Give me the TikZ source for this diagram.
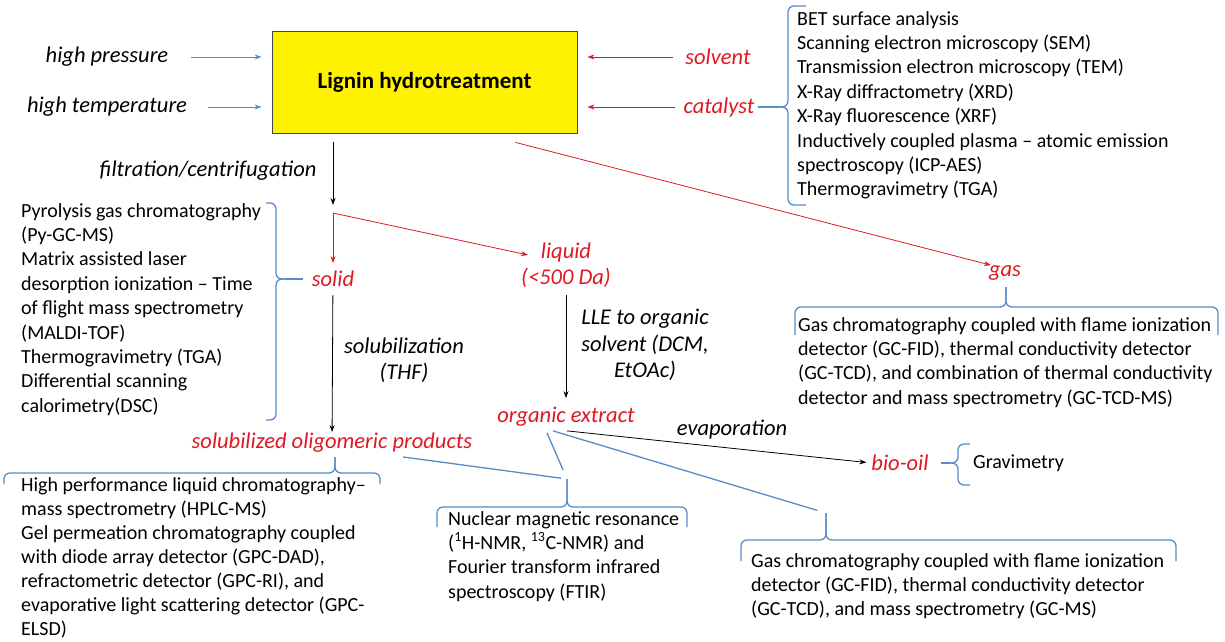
\documentclass[tikz,border=0pt]{standalone}
\usepackage{fontspec}
\setmainfont{Carlito}
\usetikzlibrary{arrows.meta}
\definecolor{labred}{RGB}{222,24,34}
\definecolor{bracblue}{RGB}{86,140,200}
\definecolor{boxline}{RGB}{70,70,70}

\tikzset{
  lbl/.style={font=\fontsize{22.5}{26.5}\selectfont\itshape, inner sep=0pt, align=center},
  redlbl/.style={lbl, text=labred},
  txtlist/.style={font=\fontsize{20}{24.4}\selectfont, align=left, inner sep=0pt, anchor=north west},
  tip/.style={-{Stealth[length=7pt,width=5pt]}, line width=0.8pt},
  bluearr/.style={tip, draw=bracblue},
  redarr/.style={tip, draw=labred},
  blackarr/.style={tip, draw=black},
  bracepen/.style={draw=bracblue, line width=1.3pt, rounded corners=6pt},
  link/.style={draw=bracblue, line width=1.3pt},
}

\begin{document}
\begin{tikzpicture}[x=1pt, y=-1pt]
\useasboundingbox (0,0) rectangle (1225,641);

\node (hydro) [draw=boxline, fill=yellow, line width=0.8pt, minimum width=305pt, minimum height=102pt,
  font=\fontsize{23}{26}\selectfont\bfseries] at (424.5,82) {Lignin hydrotreatment};

\node (hp) [lbl] at (107,57) {high pressure};
\node (ht) [lbl] at (107,107) {high temperature};
\node (solvent) [redlbl] at (718,57) {solvent};
\node (catalyst) [redlbl] at (719,107) {catalyst};
\node (filt) [lbl] at (208,171) {filtration/centrifugation};

\draw [bluearr, shorten <=23pt, shorten >=10pt] (hp.east) -- (hydro.west |- hp);
\draw [bluearr, shorten <=21pt, shorten >=10pt] (ht.east) -- (hydro.west |- ht);
\draw [redarr, shorten <=12pt, shorten >=10pt] (solvent.west) -- (hydro.east |- solvent);
\draw [redarr, shorten <=8pt, shorten >=10pt] (catalyst.west) -- (hydro.east |- catalyst);

% catalyst characterisation
\node (catlist) [txtlist] at (797,11) {BET surface analysis\\
Scanning electron microscopy (SEM)\\
Transmission electron microscopy (TEM)\\
X-Ray diffractometry (XRD)\\
X-Ray fluorescence (XRF)\\
Inductively coupled plasma – atomic emission\\
spectroscopy (ICP-AES)\\
Thermogravimetry (TGA)};
\coordinate (cattip) at (779,107);
\draw [bracepen] (806,6) -| (788,107) -- (cattip);
\draw [bracepen] (806,205) -| (788,107) -- (cattip);
\draw [link, shorten <=3pt] (catalyst.east) -- (cattip);

% separation
\coordinate (split) at (333,213);
\draw [blackarr, shorten <=9pt] (hydro.south -| split) -- ([yshift=8pt]split);
\node (solid) [redlbl] at (333,279) {solid};
\node (liquid) [redlbl] at (566,265) {liquid\\(<500 Da)};
\node (gas) [redlbl] at (1005,273) {gas};
\draw [redarr, shorten >=8pt] (split) -- (solid);
\draw [redarr] (split) -- ([shift={(7pt,10pt)}]liquid.west);
\draw [redarr, shorten >=1pt] ([xshift=91pt,yshift=-9pt]hydro.south) -- ([xshift=3pt]gas.north west);

% solid fraction
\node (solidlist) [txtlist] at (21,203) {Pyrolysis gas chromatography\\
(Py-GC-MS)\\
Matrix assisted laser\\
desorption ionization – Time\\
of flight mass spectrometry\\
(MALDI-TOF)\\
Thermogravimetry (TGA)\\
Differential scanning\\
calorimetry(DSC)};
\coordinate (solidtip) at (286,279);
\draw [bracepen] (266,203) -| (276,279) -- (solidtip);
\draw [bracepen] (266,420) -| (276,279) -- (solidtip);
\draw [link, shorten <=9pt] (solid.west) -- (solidtip);

\node (solub) [redlbl] at (332,443) {solubilized oligomeric products};
\node (thf) [lbl] at (404,360) {solubilization\\(THF)};
\draw [blackarr, shorten <=8pt, shorten >=1pt] (solid) -- (solub);

\node (sollist) [txtlist, font=\fontsize{20}{24.1}\selectfont] at (21,477) {High performance liquid chromatography–\\
mass spectrometry (HPLC-MS)\\
Gel permeation chromatography coupled\\
with diode array detector (GPC-DAD),\\
refractometric detector (GPC-RI), and\\
evaporative light scattering detector (GPC-\\
ELSD)};
\coordinate (soltip) at (335,457);
\draw [bracepen] (4,484) |- (335,473) -- (soltip);
\draw [bracepen] (380,484) |- (335,473) -- (soltip);

% liquid fraction
\node (lle) [lbl] at (645,345) {LLE to organic\\solvent (DCM,\\EtOAc)};
\node (orgext) [redlbl] at (566,417) {organic extract};
\draw [blackarr, shorten <=7pt, shorten >=9pt] (liquid) -- (orgext);

\node (evap) [lbl] at (732,430) {evaporation};
\node (biooil) [redlbl] at (900,463) {bio-oil};
\draw [blackarr, shorten >=5pt] ([shift={(1pt,-4pt)}]orgext.south) -- (biooil.west);

\node (grav) [txtlist, anchor=west] at (973,463) {Gravimetry};
\coordinate (biotip) at (950,463);
\draw [bracepen] (970,444) -| (958,463) -- (biotip);
\draw [bracepen] (970,485) -| (958,463) -- (biotip);
\draw [link, shorten <=12pt] (biooil.east) -- (biotip);

\node (nmrlist) [txtlist] at (448,511) {Nuclear magnetic resonance\\
(\textsuperscript{1}H-NMR, \textsuperscript{13}C-NMR) and\\
Fourier transform infrared\\
spectroscopy (FTIR)};
\coordinate (nmrtip) at (567,479);
\draw [bracepen] (437,527) |- (567,507) -- (nmrtip);
\draw [bracepen] (687,527) |- (567,507) -- (nmrtip);
\draw [link, shorten >=6pt] ([shift={(71pt,-4pt)}]solub.south) -- (nmrtip);
\draw [link, shorten >=10pt] ([shift={(-19pt,-6pt)}]orgext.south) -- (nmrtip);

\node (gclist) [txtlist] at (751,553) {Gas chromatography coupled with flame ionization\\
detector (GC-FID), thermal conductivity detector\\
(GC-TCD), and mass spectrometry (GC-MS)};
\coordinate (gctip) at (826,513);
\draw [bracepen] (741,561) |- (826,540) -- (gctip);
\draw [bracepen] (1176,561) |- (826,540) -- (gctip);
\draw [link, shorten >=9pt] ([shift={(-13pt,-4pt)}]orgext.south) -- (gctip);

% gas fraction
\node (gaslist) [txtlist] at (798,317) {Gas chromatography coupled with flame ionization\\
detector (GC-FID), thermal conductivity detector\\
(GC-TCD), and combination of thermal conductivity\\
detector and mass spectrometry (GC-TCD-MS)};
\coordinate (gastip) at (1006,287);
\draw [bracepen] (795,335) |- (1006,307) -- (gastip);
\draw [bracepen] (1218,335) |- (1006,307) -- (gastip);
\end{tikzpicture}
\end{document}
